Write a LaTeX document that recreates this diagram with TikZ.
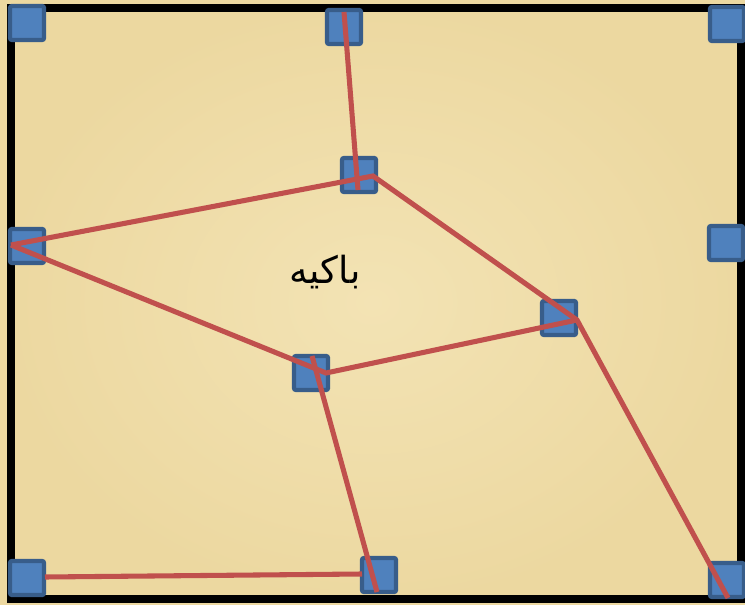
\documentclass[tikz,border=0pt]{standalone}
\usepackage{fontspec}
\newfontfamily\arabicfont[Script=Arabic]{DejaVu Sans}
\TeXXeTstate=1
\definecolor{papyrus}{HTML}{ECD8A0}
\definecolor{papyruslight}{HTML}{F3E3B4}
\definecolor{postfill}{HTML}{4F81BD}
\definecolor{postline}{HTML}{385D8A}
\definecolor{wallred}{HTML}{C0504D}
\begin{document}
\begin{tikzpicture}[x=0.75pt, y=-0.75pt,
  post/.style={draw=postline, fill=postfill, line width=3.2pt, rounded corners=1.5pt,
    minimum size=25.5pt, inner sep=0pt},
  wall/.style={draw=wallred, line width=3.8pt}]
  \useasboundingbox (0,0) rectangle (745,605);
  \shade[inner color=papyruslight, outer color=papyrus] (0,0) rectangle (745,605);
  \draw[line width=6pt] (11,8) rectangle (741,599);
  \node[post] (tl) at (27,23) {};
  \node[post] (tm) at (344,27) {};
  \node[post] (tr) at (727,24) {};
  \node[post] (cu) at (359,175) {};
  \node[post] (lm) at (27,246) {};
  \node[post] (rm) at (726,243) {};
  \node[post] (cr) at (559,318) {};
  \node[post] (cl) at (311,373) {};
  \node[post] (bl) at (27,578) {};
  \node[post] (bm) at (379,575) {};
  \node[post] (br) at (727,580) {};
  \coordinate (tmtop) at (344,12);
  \coordinate (cudown) at (358,190);
  \coordinate (cuknee) at (373,176);
  \coordinate (lmend) at (11,245);
  \coordinate (crknee) at (577,320);
  \coordinate (clknee) at (326,373);
  \coordinate (cltop) at (312,356);
  \coordinate (bmdown) at (377,592);
  \coordinate (brdown) at (728,598);
  \coordinate (blend) at (45,577);
  \coordinate (bmleft) at (362,574);
  \draw[wall] (tmtop) -- (cudown);
  \draw[wall] (lmend) -- (cuknee) -- (crknee) -- (brdown);
  \draw[wall] (lmend) -- (clknee) -- (crknee);
  \draw[wall] (cltop) -- (bmdown);
  \draw[wall] (blend) -- (bmleft);
  \node[font=\fontsize{28}{32}\selectfont] (name) at (325,272) {\arabicfont\beginR باكيه\endR};
\end{tikzpicture}
\end{document}
